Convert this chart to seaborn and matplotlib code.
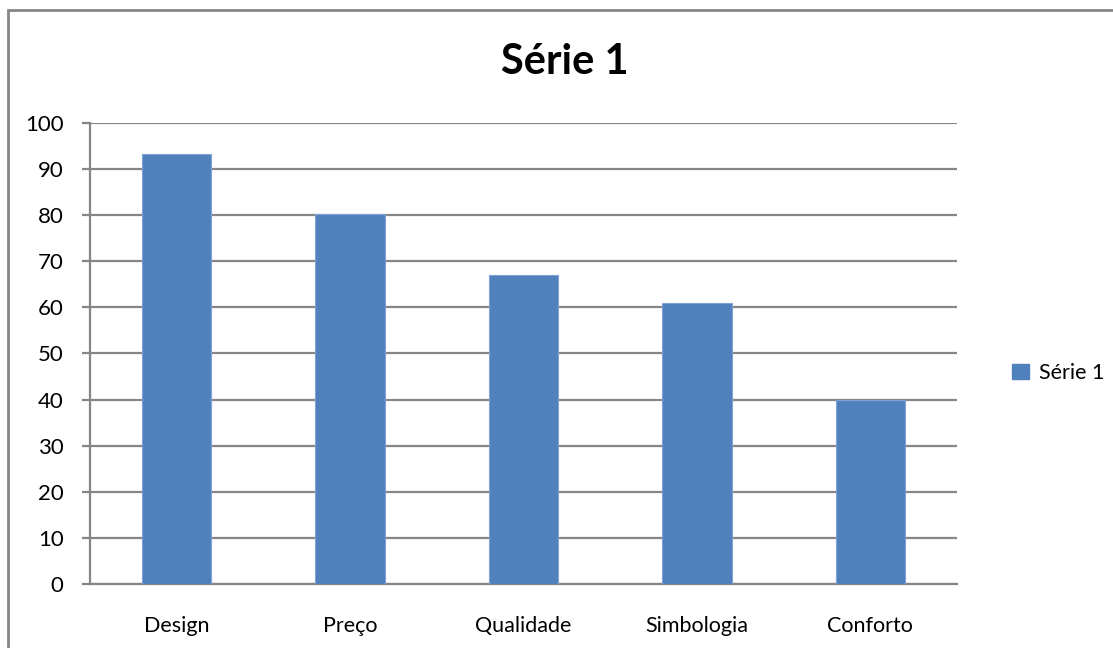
import matplotlib
matplotlib.use("Agg")
import matplotlib.pyplot as plt
import matplotlib.patches as mpatches
import pandas as pd
import seaborn as sns

sns.set_style("white")
plt.rcParams['font.family'] = ['Lato', 'DejaVu Sans']
plt.rcParams['text.color'] = 'black'
plt.rcParams['xtick.color'] = 'black'
plt.rcParams['ytick.color'] = 'black'

categories = ["Design", "Preço", "Qualidade", "Simbologia", "Conforto"]
values = [93.3, 80.2, 67.0, 60.9, 40.0]
y_ticks = [0, 10, 20, 30, 40, 50, 60, 70, 80, 90, 100]
series_name = "Série 1"

bar_color = "#4F81BD"
grid_color = "#868686"

df = pd.DataFrame({"categoria": categories, "valor": values})

fig = plt.figure(figsize=(11.13, 6.48), dpi=100)
ax = fig.add_axes([0.0809, 0.0988, 0.779, 0.7114])

sns.barplot(data=df, x="categoria", y="valor", color=bar_color, width=0.4,
            saturation=1, edgecolor="#7FA3D3", linewidth=0.8, ax=ax, zorder=3)

# outer chart border (only left and top visible in the frame)
fig.patches.append(mpatches.Rectangle((8 / 1113, -0.1), 1.2, 1 - 10 / 648 + 0.1,
                                      transform=fig.transFigure, fill=False,
                                      edgecolor=grid_color, linewidth=2, zorder=0))

ax.set_ylim(0, 100)
ax.set_xlim(-0.5, len(categories) - 0.5)
ax.set_yticks(y_ticks)
ax.set_yticklabels([str(t) for t in y_ticks])
ax.yaxis.grid(True, color=grid_color, linewidth=1.6, zorder=0)
ax.set_axisbelow(True)

ax.set_xticks([i - 0.5 for i in range(len(categories) + 1)], minor=True)
ax.tick_params(axis="x", which="major", length=0, pad=23, labelsize=15.5, labelcolor="black")
ax.tick_params(axis="x", which="minor", length=7, width=1.6, color=grid_color, direction="out")
ax.tick_params(axis="y", length=6, width=1.6, color=grid_color, pad=13, labelsize=16,
               labelcolor="black", direction="out", left=True)

for side in ["top", "right"]:
    ax.spines[side].set_visible(False)
for side in ["left", "bottom"]:
    ax.spines[side].set_color(grid_color)
    ax.spines[side].set_linewidth(1.6)

ax.set_xlabel("")
ax.set_ylabel("")

fig.text(565 / 1113, 1 - 62 / 648, series_name, ha="center", va="center",
         fontsize=30, fontweight="bold", color="black")

handle = mpatches.Patch(color=bar_color, label=series_name)
fig.legend(handles=[handle], loc="center left", bbox_to_anchor=(993 / 1113, 1 - 373 / 648),
           frameon=False, fontsize=15.5, handlelength=0.75, handleheight=0.75,
           handletextpad=0.5, labelcolor="black")

fig.savefig("out.png", dpi=100)
